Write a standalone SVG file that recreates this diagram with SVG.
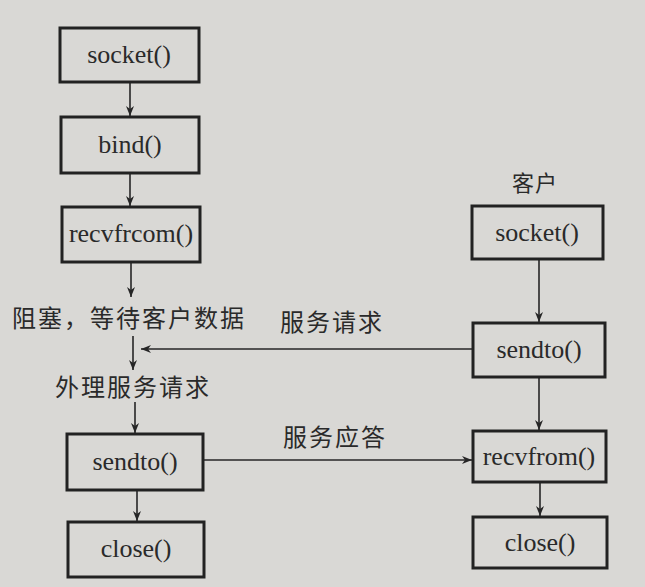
<svg xmlns="http://www.w3.org/2000/svg" width="645" height="587" viewBox="0 0 645 587">
<style>
.box{fill:none;stroke:#222;stroke-width:3}
.fn{fill:#2a2a2a;text-anchor:middle}
.cn{fill:#2a2a2a;letter-spacing:2px}
.ln{fill:none;stroke:#262626;stroke-width:1.6}
</style>
<defs>
<marker id="ah" viewBox="0 0 10 10" refX="10" refY="5" markerWidth="10" markerHeight="10" markerUnits="userSpaceOnUse" orient="auto">
<path d="M0,1 L10,5 L0,9 L3,5 Z" fill="#262626"/>
</marker>
</defs>
<rect width="645" height="587" fill="#d9d8d5"/>
<g id="connectors">
<line class="ln" x1="130" y1="82" x2="130" y2="116" marker-end="url(#ah)"/>
<line class="ln" x1="130" y1="173" x2="130" y2="206" marker-end="url(#ah)"/>
<line class="ln" x1="131" y1="262" x2="131" y2="297" marker-end="url(#ah)"/>
<line class="ln" x1="133" y1="336" x2="133" y2="370" marker-end="url(#ah)"/>
<line class="ln" x1="473" y1="349" x2="141" y2="349" marker-end="url(#ah)"/>
<line class="ln" x1="135" y1="402" x2="135" y2="433" marker-end="url(#ah)"/>
<line class="ln" x1="137" y1="490" x2="137" y2="521" marker-end="url(#ah)"/>
<line class="ln" x1="539" y1="259" x2="539" y2="322" marker-end="url(#ah)"/>
<line class="ln" x1="539" y1="377" x2="539" y2="430" marker-end="url(#ah)"/>
<line class="ln" x1="203" y1="460" x2="472" y2="460" marker-end="url(#ah)"/>
<line class="ln" x1="540" y1="482" x2="540" y2="516" marker-end="url(#ah)"/>
</g>
<g id="nodes" font-family="Liberation Serif, Times New Roman, serif" font-size="26">
<g id="s_socket"><rect class="box" x="60" y="28" width="139" height="54"/><text class="fn" x="129" y="63">socket()</text></g>
<g id="s_bind"><rect class="box" x="61" y="117" width="138" height="56"/><text class="fn" x="130" y="153">bind()</text></g>
<g id="s_recv"><rect class="box" x="62" y="207" width="138" height="55"/><text class="fn" x="131" y="242">recvfrcom()</text></g>
<g id="s_sendto"><rect class="box" x="67" y="434" width="136" height="56"/><text class="fn" x="135" y="470">sendto()</text></g>
<g id="s_close"><rect class="box" x="68" y="522" width="136" height="55"/><text class="fn" x="136" y="557">close()</text></g>
<g id="c_socket"><rect class="box" x="472" y="206" width="131" height="53"/><text class="fn" x="537" y="241">socket()</text></g>
<g id="c_sendto"><rect class="box" x="473" y="323" width="132" height="54"/><text class="fn" x="539" y="358">sendto()</text></g>
<g id="c_recv"><rect class="box" x="473" y="431" width="133" height="51"/><text class="fn" x="539" y="465">recvfrom()</text></g>
<g id="c_close"><rect class="box" x="473" y="517" width="134" height="51"/><text class="fn" x="540" y="551">close()</text></g>
</g>
<g id="labels" font-family="Noto Sans CJK SC, sans-serif" font-size="24">
<text class="cn" x="12" y="327">阻塞，等待客户数据</text>
<text class="cn" x="55" y="396">外理服务请求</text>
<text class="cn" x="280" y="331">服务请求</text>
<text class="cn" x="283" y="446">服务应答</text>
<text class="cn" x="512" y="191" font-size="22" style="letter-spacing:1px">客户</text>
</g>
</svg>
